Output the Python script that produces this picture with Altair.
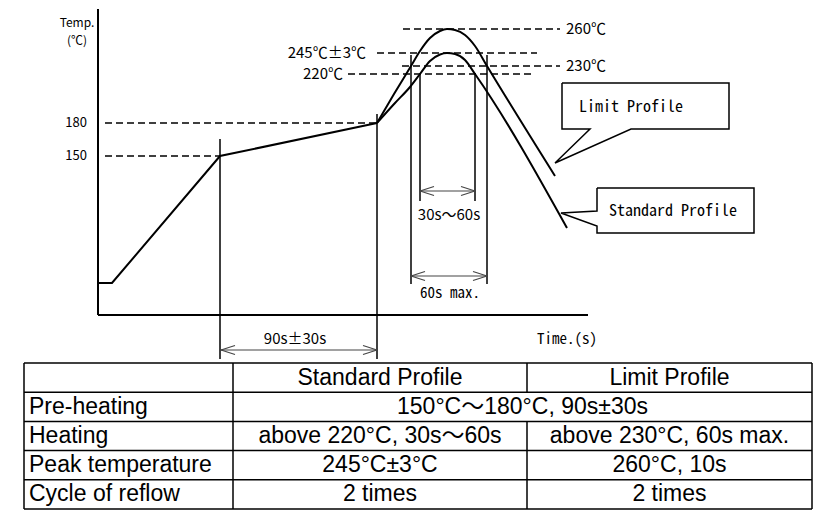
import altair as alt
import pandas as pd

# ---------------- diagram data (schematic units = reference pixel grid) ----------------
# shared preheat ramp / soak
base_x = [98, 112, 220, 377]
base_y = [277, 277, 150, 117]
# Limit Profile curve
limit_x = [377, 394, 411, 420, 430, 440, 447, 455, 465, 475, 487, 555]
limit_y = [117, 88, 60, 45, 32, 25, 23, 24, 29, 40, 60, 170]
# Standard Profile curve
std_x = [377, 395, 410, 420, 430, 440, 447, 455, 465, 475, 567]
std_y = [117, 97, 81, 68, 55, 48.5, 47, 48, 54, 68, 222]

# dashed reference levels
dash_name = ["180", "150", "260", "245", "230", "220"]
dash_y = [117, 150, 23, 47, 60, 68]
dash_x1 = [105, 105, 403, 377, 402, 348]
dash_x2 = [378, 220, 560, 537, 560, 533]

# solid vertical markers
vert_x = [220, 377, 411, 487, 420, 475]
vert_y1 = [133, 108, 49, 49, 67, 67]
vert_y2 = [353, 353, 278, 278, 195, 195]

# axes
axis_x1 = [98, 98]
axis_x2 = [98, 588]
axis_y1 = [3, 309]
axis_y2 = [309, 309]

# dimension arrows
arrow_y = [344, 185, 270]
arrow_x1 = [221, 420, 411]
arrow_x2 = [377, 475, 487]
arrow_text = ["90s±30s", "30s～60s", "60s max."]
arrow_text_x = [295, 449, 450]
arrow_text_y = [333, 209, 287]

# temperature labels
tick_text = ["180", "150"]
tick_y = [117, 150]
left_level_text = ["245℃±3℃", "220℃"]
left_level_x = [366, 343]
left_level_y = [47, 68]
right_level_text = ["260℃", "230℃"]
right_level_x = [566, 566]
right_level_y = [23, 60]
axis_title_text = ["Temp.", "(℃)"]
axis_title_y = [17, 35]

# callouts
limit_box_x = [562, 729, 729, 631, 555, 590, 562, 562]
limit_box_y = [77, 77, 123, 123, 157, 123, 123, 77]
std_box_x = [597, 754, 754, 597, 597, 561, 597, 597]
std_box_y = [182, 182, 227, 227, 220, 207, 205, 182]
callout_text = ["Limit Profile", "Standard Profile"]
callout_text_x = [579, 609]
callout_text_y = [101, 205]

# ---------------- table data ----------------
table_cols = [24, 233, 527, 812]
table_rows = [357, 386.2, 415.4, 444.6, 473.8, 503]
row_labels = ["", "Pre-heating", "Heating", "Peak temperature", "Cycle of reflow"]
std_vals = ["Standard Profile", "", "above 220°C, 30s～60s", "245°C±3°C", "2 times"]
lim_vals = ["Limit Profile", "", "above 230°C, 60s max.", "260°C, 10s", "2 times"]
merged_text = "150°C～180°C, 90s±30s"

# ---------------- scales ----------------
XS = alt.Scale(domain=[8, 813], nice=False, zero=False)
YS = alt.Scale(domain=[8, 504], nice=False, zero=False, reverse=True)
CJK = "Noto Sans CJK JP, Noto Sans, sans-serif"
MONO = "Noto Sans Mono CJK JP, DejaVu Sans Mono, monospace"
TABLE_FONT = "Liberation Sans, Arial, Noto Sans CJK JP, sans-serif"


def X(f):
    return alt.X(f, type="quantitative", scale=XS, axis=None)


def Y(f):
    return alt.Y(f, type="quantitative", scale=YS, axis=None)


def rules(df, **kw):
    return alt.Chart(df).mark_rule(**kw).encode(
        x=X("x1"), x2="x2", y=Y("y1"), y2="y2")


def texts(df, **kw):
    return alt.Chart(df).mark_text(**kw).encode(x=X("x"), y=Y("y"), text="t:N")


layers = []

# axes
layers.append(rules(pd.DataFrame({"x1": axis_x1, "x2": axis_x2, "y1": axis_y1, "y2": axis_y2}),
                    color="black", strokeWidth=2))
# dashed levels
layers.append(rules(pd.DataFrame({"x1": dash_x1, "x2": dash_x2, "y1": dash_y, "y2": dash_y,
                                  "n": dash_name}),
                    color="black", strokeWidth=1.5, strokeDash=[7, 4]))
# verticals
layers.append(rules(pd.DataFrame({"x1": vert_x, "x2": vert_x, "y1": vert_y1, "y2": vert_y2}),
                    color="black", strokeWidth=1.5))

# arrows with open heads
head_len, head_w = 14, 4.5
ax1, ax2, ay1, ay2 = [], [], [], []
for xa, xb, yy in zip(arrow_x1, arrow_x2, arrow_y):
    ax1.append(xa); ax2.append(xb); ay1.append(yy); ay2.append(yy)
    for sgn in (-1, 1):
        ax1.append(xa); ax2.append(xa + head_len); ay1.append(yy); ay2.append(yy + sgn * head_w)
        ax1.append(xb); ax2.append(xb - head_len); ay1.append(yy); ay2.append(yy + sgn * head_w)
layers.append(rules(pd.DataFrame({"x1": ax1, "x2": ax2, "y1": ay1, "y2": ay2}),
                    color="#444444", strokeWidth=1.2))

# profiles
layers.append(alt.Chart(pd.DataFrame({"x": base_x, "y": base_y, "o": range(len(base_x))}))
              .mark_line(color="black", strokeWidth=2)
              .encode(x=X("x"), y=Y("y"), order="o:Q"))
curves = pd.concat([
    pd.DataFrame({"x": limit_x, "y": limit_y, "s": "Limit Profile"}),
    pd.DataFrame({"x": std_x, "y": std_y, "s": "Standard Profile"}),
])
layers.append(alt.Chart(curves).mark_line(color="black", strokeWidth=2, interpolate="monotone")
              .encode(x=X("x"), y=Y("y"), detail="s:N"))

# callouts
boxes = pd.concat([
    pd.DataFrame({"x": limit_box_x, "y": limit_box_y, "o": range(len(limit_box_x)), "s": "limit"}),
    pd.DataFrame({"x": std_box_x, "y": std_box_y, "o": range(len(std_box_x)), "s": "std"}),
])
layers.append(alt.Chart(boxes).mark_line(color="black", strokeWidth=1.5)
              .encode(x=X("x"), y=Y("y"), order="o:Q", detail="s:N"))
layers.append(texts(pd.DataFrame({"x": callout_text_x, "y": callout_text_y, "t": callout_text}),
                    align="left", baseline="middle", font=MONO, fontSize=16, color="black"))

# diagram labels
layers.append(texts(pd.DataFrame({"x": [87] * 2, "y": tick_y, "t": tick_text}),
                    align="right", baseline="middle", font=CJK, fontSize=13, color="black"))
layers.append(texts(pd.DataFrame({"x": [77] * 2, "y": axis_title_y, "t": axis_title_text}),
                    align="center", baseline="middle", font=CJK, fontSize=12, color="black"))
layers.append(texts(pd.DataFrame({"x": left_level_x, "y": left_level_y, "t": left_level_text}),
                    align="right", baseline="middle", font=CJK, fontSize=15, color="black"))
layers.append(texts(pd.DataFrame({"x": right_level_x, "y": right_level_y, "t": right_level_text}),
                    align="left", baseline="middle", font=CJK, fontSize=15, color="black"))
layers.append(texts(pd.DataFrame({"x": arrow_text_x[:2], "y": arrow_text_y[:2], "t": arrow_text[:2]}),
                    align="center", baseline="middle", font=CJK, fontSize=15, color="black"))
layers.append(texts(pd.DataFrame({"x": arrow_text_x[2:], "y": arrow_text_y[2:], "t": arrow_text[2:]}),
                    align="center", baseline="middle", font=MONO, fontSize=15, color="black"))
layers.append(texts(pd.DataFrame({"x": [567], "y": [333], "t": ["Time.(s)"]}),
                    align="center", baseline="middle", font=MONO, fontSize=15, color="black"))

# table grid
tx1, tx2, ty1, ty2 = [], [], [], []
for r in table_rows:
    tx1.append(table_cols[0]); tx2.append(table_cols[-1]); ty1.append(r); ty2.append(r)
for c in (table_cols[0], table_cols[1], table_cols[3]):
    tx1.append(c); tx2.append(c); ty1.append(table_rows[0]); ty2.append(table_rows[-1])
tx1 += [table_cols[2], table_cols[2]]; tx2 += [table_cols[2], table_cols[2]]
ty1 += [table_rows[0], table_rows[2]]; ty2 += [table_rows[1], table_rows[-1]]
layers.append(rules(pd.DataFrame({"x1": tx1, "x2": tx2, "y1": ty1, "y2": ty2}),
                    color="black", strokeWidth=1.5))

# table text
row_mid = [(a + b) / 2 for a, b in zip(table_rows[:-1], table_rows[1:])]
c2 = (table_cols[1] + table_cols[2]) / 2
c3 = (table_cols[2] + table_cols[3]) / 2
cm = (table_cols[1] + table_cols[3]) / 2
left_df = pd.DataFrame({"x": [table_cols[0] + 5] * 5, "y": row_mid, "t": row_labels})
center_df = pd.DataFrame({
    "x": [c2] * 5 + [c3] * 5 + [cm],
    "y": row_mid + row_mid + [row_mid[1]],
    "t": std_vals + lim_vals + [merged_text],
})
center_df = center_df[center_df["t"] != ""]
left_df = left_df[left_df["t"] != ""]
layers.append(texts(left_df, align="left", baseline="middle", font=TABLE_FONT, fontSize=23, color="black"))
layers.append(texts(center_df, align="center", baseline="middle", font=TABLE_FONT, fontSize=23, color="black"))

chart = alt.layer(*layers).properties(width=805, height=496, padding=0).configure_view(stroke=None)
chart.save("out.html", embed_options={"renderer": "svg", "actions": False})
